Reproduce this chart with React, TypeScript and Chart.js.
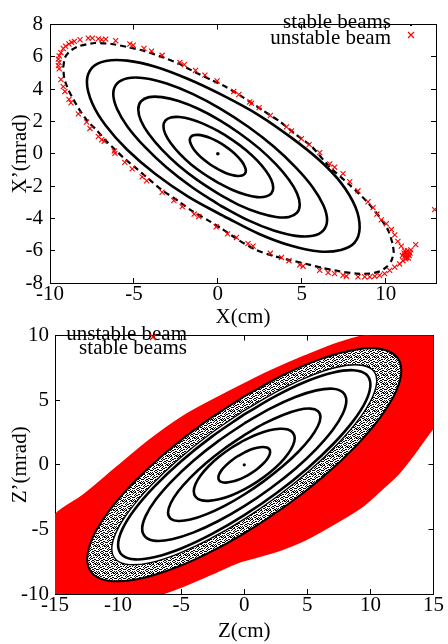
import React, { useEffect, useRef } from 'react';
import { Chart, registerables } from 'chart.js';

Chart.register(...registerables);

const FONT = "'Liberation Serif', 'Times New Roman', serif";

type Pt = [number, number];

// ---------------- Top panel: X (cm) vs X' (mrad) ----------------
const TOP_X_TICKS = [-10, -5, 0, 5, 10];
const TOP_Y_TICKS = [-8, -6, -4, -2, 0, 2, 4, 6, 8];
const TOP_KEY = ['stable beams', 'unstable beam'];

const TOP_CENTER: Pt[] = [[0, 0]];
const TOP_E1: Pt[] = [[1.67,-1.05],[1.61,-1.24],[1.45,-1.35],[1.18,-1.37],[0.84,-1.31],[0.43,-1.17],[0,-0.95],[-0.43,-0.68],[-0.84,-0.36],[-1.18,-0.03],[-1.45,0.30],[-1.61,0.60],[-1.67,0.85],[-1.61,1.04],[-1.45,1.15],[-1.18,1.17],[-0.84,1.11],[-0.43,0.97],[0,0.75],[0.43,0.48],[0.84,0.16],[1.18,-0.17],[1.45,-0.50],[1.61,-0.80]];
const TOP_E2: Pt[] = [[3.30,-2.10],[3.19,-2.45],[2.86,-2.65],[2.34,-2.68],[1.67,-2.54],[0.88,-2.24],[0.03,-1.80],[-0.82,-1.25],[-1.61,-0.64],[-2.28,0.01],[-2.80,0.65],[-3.13,1.22],[-3.24,1.70],[-3.13,2.05],[-2.80,2.25],[-2.28,2.28],[-1.61,2.14],[-0.82,1.84],[0.03,1.40],[0.88,0.85],[1.67,0.24],[2.34,-0.41],[2.86,-1.05],[3.19,-1.62]];
const TOP_E3: Pt[] = [[4.88,-3.15],[4.72,-3.64],[4.24,-3.91],[3.47,-3.91],[2.48,-3.67],[1.31,-3.19],[0.07,-2.50],[-1.17,-1.66],[-2.34,-0.72],[-3.33,0.26],[-4.10,1.21],[-4.58,2.05],[-4.74,2.75],[-4.58,3.24],[-4.10,3.51],[-3.33,3.51],[-2.34,3.27],[-1.17,2.79],[0.07,2.10],[1.31,1.26],[2.48,0.32],[3.47,-0.66],[4.24,-1.61],[4.72,-2.45]];
const TOP_E4: Pt[] = [[6.51,-4.10],[6.29,-4.74],[5.66,-5.08],[4.64,-5.08],[3.33,-4.75],[1.79,-4.11],[0.14,-3.20],[-1.51,-2.09],[-3.05,-0.85],[-4.36,0.44],[-5.38,1.68],[-6.01,2.79],[-6.23,3.70],[-6.01,4.34],[-5.38,4.68],[-4.36,4.68],[-3.05,4.35],[-1.51,3.71],[0.14,2.80],[1.79,1.69],[3.33,0.45],[4.64,-0.84],[5.66,-2.08],[6.29,-3.19]];
const TOP_E5: Pt[] = [[8.45,-4.6],[8.15,-5.5],[7.34,-5.95],[6.06,-6.05],[4.38,-5.7],[2.43,-4.95],[0.33,-3.85],[-1.77,-2.65],[-3.72,-1.25],[-5.40,0.25],[-6.68,1.75],[-7.49,3.15],[-7.8,4.45],[-7.49,5.34],[-6.68,5.75],[-5.40,5.77],[-3.72,5.39],[-1.77,4.63],[0.33,3.6],[2.43,2.4],[4.38,1.0],[6.06,-0.4],[7.34,-1.8],[8.2,-3.3]];
const TOP_OUTER: Pt[] = [[-9.21,5.36],[-9.11,5.96],[-8.81,6.36],[-8.31,6.66],[-7.32,6.86],[-6.33,6.80],[-5.34,6.60],[-4.35,6.36],[-3.35,6.00],[-2.36,5.60],[-1.37,5.06],[-0.38,4.57],[0.52,4.12],[1.41,3.56],[2.70,2.67],[3.69,2.01],[4.68,1.17],[5.58,0.47],[6.67,-0.83],[7.86,-1.93],[8.85,-2.92],[9.64,-3.92],[10.14,-4.72],[10.40,-5.52],[10.48,-6.12],[10.34,-6.62],[10.04,-7.02],[9.64,-7.28],[9.05,-7.42],[8.25,-7.42],[7.26,-7.28],[6.27,-7.08],[5.28,-6.82],[4.29,-6.58],[3.29,-6.32],[2.30,-5.96],[1.25,-5.35],[0.22,-4.63],[-0.58,-4.12],[-1.57,-3.52],[-2.36,-2.92],[-3.35,-2.23],[-4.15,-1.53],[-4.94,-0.83],[-5.64,-0.23],[-6.13,0.27],[-6.73,0.87],[-7.22,1.47],[-7.72,1.97],[-8.21,2.67],[-8.61,3.37],[-8.91,3.97],[-9.15,4.66]];
const TOP_UNSTABLE: Pt[] = [[-8.21,7.06],[-8.55,6.96],[-8.71,6.90],[-8.87,6.80],[-9.07,6.66],[-9.21,6.52],[-9.35,6.26],[-9.45,6.06],[-9.50,5.86],[-9.46,5.66],[-9.50,5.46],[-9.45,5.26],[-9.35,4.60],[-9.21,4.16],[-9.11,3.86],[-8.87,3.37],[-8.75,3.16],[-8.31,2.47],[-7.82,1.97],[-7.62,1.57],[-7.12,1.07],[-6.92,0.87],[-6.77,0.77],[-6.17,0.17],[-7.72,7.16],[-7.48,7.16],[-7.12,7.12],[-6.92,7.06],[-6.68,7.10],[-6.09,7.00],[-5.24,6.80],[-5.04,6.72],[-4.40,6.52],[-3.95,6.36],[-3.32,6.10],[-2.26,5.66],[-2.00,5.52],[-1.33,5.16],[-0.77,4.87],[-0.04,4.51],[0.95,3.86],[1.25,3.67],[1.90,3.21],[2.01,3.13],[2.46,2.86],[3.13,2.37],[4.09,1.67],[4.39,1.41],[4.98,0.93],[5.44,0.57],[6.07,0.07],[6.67,-0.63],[6.96,-0.83],[7.46,-1.23],[7.86,-1.73],[8.35,-2.29],[8.95,-2.97],[9.25,-3.33],[9.48,-3.73],[9.74,-4.09],[10.04,-4.33],[10.34,-4.69],[10.54,-5.02],[10.73,-5.42],[10.93,-5.72],[11.13,-6.02],[11.33,-6.22],[11.79,-5.62],[12.92,-3.46],[11.23,-6.42],[11.03,-6.62],[10.83,-6.82],[10.54,-7.02],[10.24,-7.22],[9.94,-7.42],[9.64,-7.52],[9.35,-7.58],[9.05,-7.62],[8.75,-7.62],[8.35,-7.62],[7.66,-7.58],[7.46,-7.52],[6.96,-7.42],[6.57,-7.36],[6.07,-7.22],[5.08,-6.96],[4.88,-6.88],[4.24,-6.62],[3.79,-6.42],[3.13,-6.16],[2.10,-5.72],[1.80,-5.56],[-6.13,0.03],[-5.54,-0.53],[-5.10,-0.93],[-4.51,-1.43],[-4.24,-1.67],[-3.32,-2.38],[-2.62,-2.89],[-2.12,-3.27],[-1.41,-3.73],[-1.13,-3.88],[-0.10,-4.52],[0.58,-4.96],[1.11,-5.18],[11.25,-6.1],[11.4,-6.3],[11.15,-6.35],[11.3,-6.0],[11.45,-6.15],[11.2,-6.5],[11.0,-6.3],[11.35,-6.45],[11.1,-6.15],[11.5,-5.95]];

// ---------------- Bottom panel: Z (cm) vs Z' (mrad) ----------------
const BOT_X_TICKS = [-15, -10, -5, 0, 5, 10, 15];
const BOT_Y_TICKS = [-10, -5, 0, 5, 10];
const BOT_KEY = ['unstable beam', 'stable beams'];

const BOT_CENTER: Pt[] = [[0, 0]];
const BOT_E1: Pt[] = [[2.05,1.0],[1.98,1.21],[1.78,1.34],[1.45,1.38],[1.03,1.32],[0.53,1.18],[0,0.95],[-0.53,0.66],[-1.03,0.32],[-1.45,-0.04],[-1.78,-0.39],[-1.98,-0.72],[-2.05,-1.0],[-1.98,-1.21],[-1.78,-1.34],[-1.45,-1.38],[-1.03,-1.32],[-0.53,-1.18],[0,-0.95],[0.53,-0.66],[1.03,-0.32],[1.45,0.04],[1.78,0.39],[1.98,0.72]];
const BOT_E2: Pt[] = [[4.0,2.05],[3.86,2.47],[3.46,2.73],[2.83,2.79],[2.0,2.67],[1.04,2.37],[0,1.9],[-1.04,1.30],[-2.0,0.62],[-2.83,-0.11],[-3.46,-0.83],[-3.86,-1.49],[-4.0,-2.05],[-3.86,-2.47],[-3.46,-2.73],[-2.83,-2.79],[-2.0,-2.67],[-1.04,-2.37],[0,-1.9],[1.04,-1.30],[2.0,-0.62],[2.83,0.11],[3.46,0.83],[3.86,1.49]];
const BOT_E3: Pt[] = [[6.04,3.7],[5.83,4.17],[5.23,4.35],[4.27,4.24],[3.02,3.84],[1.56,3.18],[0,2.3],[-1.56,1.26],[-3.02,0.14],[-4.27,-0.99],[-5.23,-2.05],[-5.83,-2.98],[-6.04,-3.7],[-5.83,-4.17],[-5.23,-4.35],[-4.27,-4.24],[-3.02,-3.84],[-1.56,-3.18],[0,-2.3],[1.56,-1.26],[3.02,-0.14],[4.27,0.99],[5.23,2.05],[5.83,2.98]];
const BOT_E4: Pt[] = [[8.09,4.95],[7.81,5.61],[7.01,5.89],[5.72,5.76],[4.05,5.25],[2.09,4.37],[0,3.2],[-2.09,1.81],[-4.05,0.30],[-5.72,-1.24],[-7.01,-2.69],[-7.81,-3.95],[-8.09,-4.95],[-7.81,-5.61],[-7.01,-5.89],[-5.72,-5.76],[-4.05,-5.25],[-2.09,-4.37],[0,-3.2],[2.09,-1.81],[4.05,-0.30],[5.72,1.24],[7.01,2.69],[7.81,3.95]];
const BOT_E5: Pt[] = [[10,6.2],[9.66,7.0],[8.66,7.32],[7.07,7.14],[5.0,6.48],[2.59,5.37],[0,3.9],[-2.59,2.16],[-5.0,0.28],[-7.07,-1.63],[-8.66,-3.42],[-9.66,-4.98],[-10,-6.2],[-9.66,-7.0],[-8.66,-7.32],[-7.07,-7.14],[-5.0,-6.48],[-2.59,-5.37],[0,-3.9],[2.59,-2.16],[5.0,-0.28],[7.07,1.63],[8.66,3.42],[9.66,4.98]];
const BOT_CHAOS_IN: Pt[] = [[10.5,6.5],[10.14,7.37],[9.09,7.73],[7.42,7.57],[5.25,6.89],[2.72,5.74],[0,4.2],[-2.72,2.38],[-5.25,0.39],[-7.42,-1.63],[-9.09,-3.53],[-10.14,-5.19],[-10.5,-6.5],[-10.14,-7.37],[-9.09,-7.73],[-7.42,-7.57],[-5.25,-6.89],[-2.72,-5.74],[0,-4.2],[2.72,-2.38],[5.25,-0.39],[7.42,1.63],[9.09,3.53],[10.14,5.19]];
const BOT_CHAOS_OUT: Pt[] = [[12.45,7.3],[12.03,8.42],[10.78,8.97],[8.80,8.91],[6.23,8.24],[3.22,7.01],[0,5.3],[-3.22,3.23],[-6.23,0.94],[-8.80,-1.41],[-10.78,-3.67],[-12.03,-5.68],[-12.45,-7.3],[-12.03,-8.42],[-10.78,-8.97],[-8.80,-8.91],[-6.23,-8.24],[-3.22,-7.01],[0,-5.3],[3.22,-3.23],[6.23,-0.94],[8.80,1.41],[10.78,3.67],[12.03,5.68]];
const BOT_UNSTABLE_EDGE: Pt[] = [[-16.5,-6.5],[-15,-3.9],[-12.8,-2.4],[-10.1,-0.2],[-7.5,1.9],[-4.9,3.7],[-2.3,5.1],[0.3,6.4],[2.2,7.3],[4.8,8.4],[7.4,9.4],[10,10.1],[12.5,10.5],[15,10.5],[16.5,9.5],[16.5,4.5],[15,2.9],[13.5,0.9],[12.2,-0.7],[11.1,-1.7],[9.5,-3.1],[7.4,-4.4],[4.8,-5.8],[2.2,-6.8],[-0.4,-7.5],[-2.5,-8.4],[-4.9,-9.4],[-7.5,-10.3],[-9.5,-10.8],[-12,-11],[-15,-11],[-16.5,-10]];

// ---------------- helpers ----------------
const xy = (a: Pt[]) => a.map(([x, y]) => ({ x, y }));
const loop = (a: Pt[], start = 0) => {
  const r = [...a.slice(start), ...a.slice(0, start)];
  r.push(r[0]);
  return xy(r);
};

const curve = (data: any[], width: number, extra: any = {}) => ({
  data,
  showLine: true,
  borderColor: '#000',
  backgroundColor: '#000',
  borderWidth: width,
  pointRadius: 0,
  pointHoverRadius: 0,
  tension: 0.35,
  fill: false,
  xAxisID: 'x',
  yAxisID: 'y',
  ...extra,
});

const dots = (data: any[], extra: any = {}) => ({
  data,
  showLine: false,
  xAxisID: 'x',
  yAxisID: 'y',
  ...extra,
});

function makeScales(
  xr: [number, number], yr: [number, number], xt: number[], yt: number[],
  xTitle: string, yTitle: string,
  box: { left: number; right: number; top: number; bottom: number },
  pad: { x: number; y: number }
) {
  const grid = { drawOnChartArea: false, drawTicks: true, tickLength: -5, color: '#000', lineWidth: 1 };
  const border = { display: true, color: '#000', width: 1 };
  const font = { family: FONT, size: 21 };
  const setTicks = (vals: number[]) => (s: any) => { s.ticks = vals.map((v) => ({ value: v })); };
  return {
    x: {
      type: 'linear', position: 'bottom', min: xr[0], max: xr[1], z: 1,
      afterBuildTicks: setTicks(xt), grid, border,
      ticks: { color: '#000', font, padding: pad.x, maxRotation: 0, autoSkip: false, callback: (v: any) => String(v) },
      title: { display: true, text: xTitle, color: '#000', font, padding: { top: 0, bottom: 0 } },
      afterFit: (s: any) => { s.height = box.bottom; },
    },
    x2: {
      type: 'linear', position: 'top', min: xr[0], max: xr[1], z: 1,
      afterBuildTicks: setTicks(xt), grid, border,
      ticks: { display: false },
      afterFit: (s: any) => { s.height = box.top; },
    },
    y: {
      type: 'linear', position: 'left', min: yr[0], max: yr[1], z: 1,
      afterBuildTicks: setTicks(yt), grid, border,
      ticks: { color: '#000', font, padding: pad.y, autoSkip: false, callback: (v: any) => String(v) },
      title: { display: true, text: yTitle, color: '#000', font, padding: { top: 7.4, bottom: 0 } },
      afterFit: (s: any) => { s.width = box.left; },
    },
    y2: {
      type: 'linear', position: 'right', min: yr[0], max: yr[1], z: 1,
      afterBuildTicks: setTicks(yt), grid, border,
      ticks: { display: false },
      afterFit: (s: any) => { s.width = box.right; },
    },
  };
}

type KeyItem = { text: string; x: number; y: number; sym?: 'dot' | 'cross'; sx?: number; sy?: number };
const keyPlugin = (items: KeyItem[]) => ({
  id: 'gnuKey',
  afterDatasetsDraw(chart: any) {
    const ctx = chart.ctx as CanvasRenderingContext2D;
    ctx.save();
    ctx.font = `21px ${FONT}`;
    ctx.fillStyle = '#000';
    ctx.textAlign = 'right';
    ctx.textBaseline = 'alphabetic';
    for (const it of items) {
      ctx.fillText(it.text, it.x, it.y);
      if (it.sym === 'dot') {
        ctx.fillStyle = '#000';
        ctx.fillRect(it.sx! - 1, it.sy! - 1, 2, 2);
      } else if (it.sym === 'cross') {
        ctx.strokeStyle = 'red';
        ctx.lineWidth = 1.2;
        ctx.beginPath();
        ctx.moveTo(it.sx! - 3, it.sy! - 3); ctx.lineTo(it.sx! + 3, it.sy! + 3);
        ctx.moveTo(it.sx! - 3, it.sy! + 3); ctx.lineTo(it.sx! + 3, it.sy! - 3);
        ctx.stroke();
      }
    }
    ctx.restore();
  },
});

function speckle(): any {
  const n = 9;
  const c = document.createElement('canvas');
  c.width = n; c.height = n;
  const g = c.getContext('2d')!;
  g.fillStyle = '#fff';
  g.fillRect(0, 0, n, n);
  g.fillStyle = '#000';
  const d = [[0,0],[3,0],[5,0],[7,1],[1,1],[4,2],[6,2],[2,3],[8,3],[0,4],[5,4],[3,5],[7,5],[1,6],[4,6],[6,7],[2,7],[8,7],[0,8],[5,8],[3,2],[7,8],[1,3],[6,5],[4,4],[8,0],[2,5],[6,0],[0,2],[4,8],[8,5],[3,7]];
  d.forEach(([x, y]) => g.fillRect(x, y, 1, 1));
  return g.createPattern(c, 'repeat') || '#666';
}

const baseOptions = (scales: any) => ({
  responsive: false,
  maintainAspectRatio: false,
  animation: false,
  devicePixelRatio: 1,
  events: [],
  layout: { padding: 0 },
  plugins: { legend: { display: false }, tooltip: { enabled: false } },
  scales,
});

function topConfig(): any {
  return {
    type: 'scatter',
    data: {
      datasets: [
        dots(xy(TOP_CENTER), { pointRadius: 1.8, pointBackgroundColor: '#000', pointBorderWidth: 0 }),
        dots(xy(TOP_UNSTABLE), { pointStyle: 'crossRot', pointRadius: 3.6, borderColor: '#ff0000', backgroundColor: '#ff0000', pointBorderWidth: 1.1 }),
        curve(loop(TOP_OUTER), 2.2, { borderDash: [6, 4], tension: 0.2 }),
        curve(loop(TOP_E1, 6), 2.6),
        curve(loop(TOP_E2, 6), 2.6),
        curve(loop(TOP_E3, 6), 2.6),
        curve(loop(TOP_E4, 6), 2.6),
        curve(loop(TOP_E5, 6), 2.6),
      ],
    },
    options: baseOptions(
      makeScales([-10, 13], [-8, 8], TOP_X_TICKS, TOP_Y_TICKS, 'X(cm)', 'X\u2019(mrad)',
        { left: 50, right: 12, top: 16, bottom: 47 }, { x: 4, y: 12 })
    ),
    plugins: [keyPlugin([
      { text: TOP_KEY[0], x: 391, y: 28, sym: 'dot', sx: 411, sy: 25 },
      { text: TOP_KEY[1], x: 391, y: 44, sym: 'cross', sx: 411, sy: 35 },
    ])],
  };
}

function botConfig(): any {
  return {
    type: 'scatter',
    data: {
      datasets: [
        dots(xy(BOT_CENTER), { pointRadius: 1.6, pointBackgroundColor: '#000', pointBorderWidth: 0 }),
        curve(loop(BOT_E1, 6), 2.6),
        curve(loop(BOT_E2, 6), 2.6),
        curve(loop(BOT_E3, 6), 2.6),
        curve(loop(BOT_E4, 6), 2.6),
        curve(loop(BOT_E5, 6), 2.6),
        curve(loop(BOT_CHAOS_IN, 6), 1.4, { fill: 'shape', backgroundColor: '#ffffff' }),
        curve(loop(BOT_CHAOS_OUT, 6), 2, { fill: 'shape', backgroundColor: speckle() }),
        curve(loop(BOT_UNSTABLE_EDGE), 2, { fill: 'shape', backgroundColor: '#ff0000', borderColor: '#ff0000', tension: 0.3 }),
      ],
    },
    options: baseOptions(
      makeScales([-15, 15], [-10, 10], BOT_X_TICKS, BOT_Y_TICKS, 'Z(cm)', 'Z\u2019(mrad)',
        { left: 55, right: 12, top: 14, bottom: 50 }, { x: 4, y: 11 })
    ),
    plugins: [keyPlugin([
      { text: BOT_KEY[0], x: 187, y: 28, sym: 'cross', sx: 153, sy: 25 },
      { text: BOT_KEY[1], x: 187, y: 42 },
    ])],
  };
}

export default function App() {
  const topRef = useRef<HTMLCanvasElement>(null);
  const botRef = useRef<HTMLCanvasElement>(null);
  useEffect(() => {
    document.body.style.margin = '0';
    const c1 = new Chart(topRef.current!, topConfig());
    const c2 = new Chart(botRef.current!, botConfig());
    return () => { c1.destroy(); c2.destroy(); };
  }, []);
  return (
    <div style={{ position: 'relative', width: 448, height: 644, background: '#fff' }}>
      <canvas ref={topRef} width={448} height={330} style={{ position: 'absolute', left: 0, top: 0 }} />
      <canvas ref={botRef} width={448} height={332} style={{ position: 'absolute', left: 0, top: 312 }} />
    </div>
  );
}
